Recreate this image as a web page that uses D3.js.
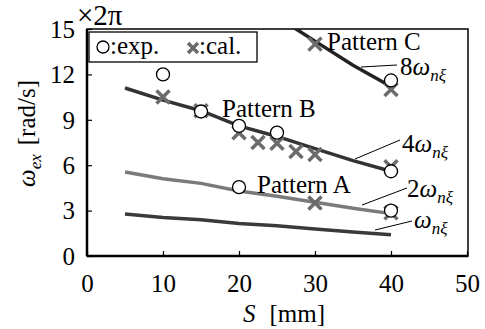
<!DOCTYPE html>
<html>
<head>
<meta charset="utf-8">
<script src="https://d3js.org/d3.v7.min.js"></script>
</head>
<body style="margin:0; background:#fff">
<script>
// S values shared by the theory curves
var sCurve = [5, 10, 15, 20, 25, 30, 35, 40];
var w1 = [2.78, 2.55, 2.4, 2.15, 2.0, 1.78, 1.58, 1.4];
var w2 = [5.55, 5.1, 4.8, 4.3, 3.95, 3.55, 3.15, 2.8];
var w4 = [11.1, 10.3, 9.6, 8.6, 7.9, 7.1, 6.3, 5.6];
var w8 = [22.2, 20.6, 19.2, 17.2, 15.8, 14.2, 12.6, 11.2];

// experiment (circles) and calculation (crosses)
var expS = [10, 15, 20, 25, 40, 40, 20, 40];
var expW = [12.0, 9.55, 8.6, 8.15, 11.6, 5.6, 4.55, 3.0];
var calS = [10, 15, 20, 22.5, 25, 27.5, 30, 40, 40, 30, 30, 40];
var calW = [10.5, 9.6, 8.15, 7.5, 7.45, 6.9, 6.7, 5.9, 2.85, 3.5, 14.0, 11.0];

var xTicks = [0, 10, 20, 30, 40, 50];
var yTicks = [0, 3, 6, 9, 12, 15];

var W = 485, H = 329;
var L = 87, R = 468, T = 29, B = 256;
var FONT = "'Liberation Serif'";

var x = d3.scaleLinear().domain([0, 50]).range([L, L + 380]);
var y = d3.scaleLinear().domain([0, 15]).range([B, T]);

var svg = d3.select("body").append("svg").attr("width", W).attr("height", H);

// every text in serif, set as inline style
function txt(g, px, py, size) {
  return g.append("text").attr("x", px).attr("y", py)
    .style("font-family", FONT).style("font-size", (size || 25) + "px");
}

svg.append("clipPath").attr("id", "plot")
  .append("rect").attr("x", L).attr("y", T).attr("width", R - L).attr("height", B - T);

// frame
svg.append("rect").attr("x", L).attr("y", T).attr("width", R - L).attr("height", B - T)
  .attr("fill", "none").attr("stroke", "#000").attr("stroke-width", 1.5);
svg.append("line").attr("x1", L).attr("x2", L).attr("y1", T).attr("y2", B)
  .attr("stroke", "#000").attr("stroke-width", 2.5);
svg.append("line").attr("x1", L).attr("x2", R).attr("y1", B).attr("y2", B)
  .attr("stroke", "#000").attr("stroke-width", 2.5);

// axes (inward ticks)
var xAxis = svg.append("g").attr("transform", "translate(0," + B + ")")
  .call(d3.axisBottom(x).tickValues(xTicks).tickSizeInner(-5).tickSizeOuter(0).tickPadding(19));
var yAxis = svg.append("g").attr("transform", "translate(" + L + ",0)")
  .call(d3.axisLeft(y).tickValues(yTicks).tickSizeInner(-5).tickSizeOuter(0).tickPadding(12));
[xAxis, yAxis].forEach(function(g) {
  g.attr("font-family", null).attr("font-size", null);
  g.select(".domain").remove();
  g.selectAll("line").attr("stroke", "#000").attr("stroke-width", 1.2);
  g.selectAll("text").style("font-family", FONT).style("font-size", "25px").attr("fill", "#000");
});
xAxis.selectAll("text").attr("dy", "0.68em");
yAxis.selectAll("text").attr("dy", "0.33em");

// curves
var line = d3.line().x(function(d) { return x(d[0]); }).y(function(d) { return y(d[1]); });
var curves = [
  {v: w1, c: "#3a3a3a"},
  {v: w2, c: "#7a7a7a"},
  {v: w4, c: "#333"},
  {v: w8, c: "#222"}
];
var cg = svg.append("g").attr("clip-path", "url(#plot)");
curves.forEach(function(cv) {
  cg.append("path")
    .datum(sCurve.map(function(s, i) { return [s, cv.v[i]]; }))
    .attr("d", line).attr("fill", "none")
    .attr("stroke", cv.c).attr("stroke-width", 3.5);
});

// crosses
function cross(g, cx, cy, r) {
  g.append("path")
    .attr("d", "M" + (cx - r) + "," + (cy - r) + "L" + (cx + r) + "," + (cy + r) +
               "M" + (cx - r) + "," + (cy + r) + "L" + (cx + r) + "," + (cy - r))
    .attr("stroke", "#6b6b6b").attr("stroke-width", 3.5).attr("fill", "none");
}
var mg = svg.append("g");
calS.forEach(function(s, i) { cross(mg, x(s), y(calW[i]), 6.5); });

// circles
expS.forEach(function(s, i) {
  mg.append("circle").attr("cx", x(s)).attr("cy", y(expW[i])).attr("r", 6.5)
    .attr("fill", "#fff").attr("stroke", "#000").attr("stroke-width", 1.3);
});

// legend
svg.append("rect").attr("x", 89).attr("y", 32).attr("width", 168).attr("height", 30)
  .attr("fill", "#fff").attr("stroke", "#000").attr("stroke-width", 1.3);
svg.append("circle").attr("cx", 103).attr("cy", 47).attr("r", 6)
  .attr("fill", "#fff").attr("stroke", "#000").attr("stroke-width", 1.3);
txt(svg, 110, 54).text(":exp.");
cross(svg, 193, 48, 5);
txt(svg, 199, 54).text(":cal.");

// pattern labels
txt(svg, 257, 193).text("Pattern A");
txt(svg, 222, 117).text("Pattern B");
txt(svg, 327, 50).text("Pattern C");

// curve annotations with leader lines
var notes = [
  {k: "8", tx: 400, ty: 75, x1: 361, y1: 67, x2: 397, y2: 65},
  {k: "4", tx: 402, ty: 152, x1: 355, y1: 159, x2: 400, y2: 140},
  {k: "2", tx: 407, ty: 197, x1: 362, y1: 205, x2: 407, y2: 188},
  {k: "", tx: 414, ty: 228, x1: 375, y1: 230, x2: 412, y2: 221}
];
notes.forEach(function(n) {
  svg.append("line").attr("x1", n.x1).attr("y1", n.y1).attr("x2", n.x2).attr("y2", n.y2)
    .attr("stroke", "#000").attr("stroke-width", 1);
  var t = txt(svg, n.tx, n.ty);
  if (n.k) t.append("tspan").text(n.k);
  t.append("tspan").style("font-style", "italic").text("\u03c9");
  t.append("tspan").style("font-style", "italic").style("font-size", "17px").attr("dy", 6).text("n\u03be");
});

// x2pi
txt(svg, 77, 25, 29).text("\u00d72\u03c0");

// axis titles
var xt = txt(svg, 243, 322);
xt.append("tspan").style("font-style", "italic").text("S");
xt.append("tspan").attr("dx", 14).text("[mm]");

var yt = svg.append("text").attr("transform", "translate(35,187) rotate(-90)")
  .style("font-family", FONT).style("font-size", "25px");
yt.append("tspan").style("font-style", "italic").text("\u03c9");
yt.append("tspan").style("font-style", "italic").style("font-size", "17px").attr("dy", 6).text("ex");
yt.append("tspan").attr("dy", -6).attr("dx", 9).text("[rad/s]");
</script>
</body>
</html>
